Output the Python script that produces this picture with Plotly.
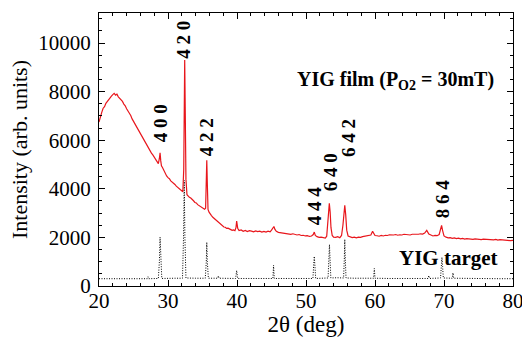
import plotly.graph_objects as go

# ---- Data ----
film_two_theta = [
    20.0, 20.2, 20.4, 20.6, 20.8, 21.0, 21.2, 21.4, 21.6, 21.8, 22.0, 22.2, 22.4, 22.6, 22.8,
    23.0, 23.2, 23.4, 23.6, 23.8, 24.0, 24.2, 24.4, 24.6, 24.8, 25.0, 25.2, 25.4, 25.6, 25.8,
    26.0, 26.2, 26.4, 26.6, 26.8, 27.0, 27.2, 27.4, 27.6, 27.8, 28.0, 28.2, 28.4, 28.6, 28.75,
    28.85, 28.95, 29.05, 29.2, 29.4, 29.6, 29.8, 30.0, 30.2, 30.4, 30.6, 30.8, 31.0, 31.2, 31.4,
    31.6, 31.8, 32.0, 32.15, 32.28, 32.36, 32.42, 32.5, 32.6, 32.75, 32.9, 33.1, 33.3, 33.5, 33.7,
    33.9, 34.1, 34.3, 34.5, 34.7, 34.9, 35.1, 35.3, 35.45, 35.55, 35.62, 35.7, 35.8, 35.95, 36.1,
    36.3, 36.5, 36.7, 36.9, 37.1, 37.3, 37.5, 37.7, 37.9, 38.1, 38.3, 38.5, 38.7, 38.9, 39.1,
    39.3, 39.5, 39.7, 39.85, 39.95, 40.1, 40.3, 40.6, 40.9, 41.2, 41.5, 41.8, 42.1, 42.4, 42.7,
    43.0, 43.3, 43.6, 43.9, 44.2, 44.5, 44.8, 45.0, 45.2, 45.35, 45.5, 45.7, 46.0, 46.3, 46.6,
    46.9, 47.2, 47.5, 47.8, 48.1, 48.4, 48.7, 49.0, 49.3, 49.6, 49.9, 50.2, 50.5, 50.8, 51.05,
    51.2, 51.35, 51.6, 51.9, 52.2, 52.5, 52.8, 53.0, 53.15, 53.28, 53.38, 53.5, 53.62, 53.8, 54.0,
    54.3, 54.6, 54.9, 55.15, 55.35, 55.5, 55.62, 55.75, 55.9, 56.1, 56.4, 56.7, 57.0, 57.3, 57.6,
    57.9, 58.2, 58.5, 58.8, 59.1, 59.4, 59.65, 59.8, 60.0, 60.3, 60.6, 60.9, 61.2, 61.5, 61.8,
    62.1, 62.4, 62.7, 63.0, 63.3, 63.6, 63.9, 64.2, 64.5, 64.8, 65.1, 65.4, 65.7, 66.0, 66.3,
    66.6, 66.9, 67.2, 67.5, 67.8, 68.1, 68.4, 68.7, 69.0, 69.3, 69.5, 69.65, 69.8, 70.0, 70.3,
    70.6, 70.9, 71.2, 71.5, 71.8, 72.1, 72.4, 72.7, 73.0, 73.3, 73.6, 73.9, 74.2, 74.5, 74.8,
    75.1, 75.4, 75.7, 76.0, 76.3, 76.6, 76.9, 77.2, 77.5, 77.8, 78.1, 78.4, 78.7, 79.0, 79.3,
    79.6, 80.0,
]
film_intensity = [
    6750, 7000, 7150, 7320, 7380, 7520, 7600, 7700, 7760, 7820, 7880, 7930, 7860, 7900, 7790,
    7740, 7650, 7600, 7490, 7420, 7300, 7220, 7100, 7020, 6880, 6780, 6660, 6540, 6450, 6320,
    6230, 6120, 6060, 5940, 5850, 5720, 5660, 5560, 5470, 5400, 5300, 5220, 5120, 5040, 5250,
    5480, 5150, 4950, 4880, 4740, 4640, 4530, 4460, 4420, 4330, 4290, 4230, 4180, 4110, 4060,
    4010, 3950, 3900, 3880, 4800, 7800, 9300, 7200, 4400, 3760, 3700, 3650, 3620, 3540, 3510,
    3440, 3420, 3350, 3310, 3260, 3230, 3180, 3160, 3200, 4100, 5180, 4200, 3150, 3040, 2960,
    2900, 2830, 2780, 2700, 2660, 2590, 2560, 2500, 2470, 2430, 2420, 2370, 2380, 2330, 2320,
    2290, 2310, 2280, 2400, 2670, 2380, 2280, 2310, 2250, 2290, 2240, 2280, 2260, 2230, 2270,
    2240, 2260, 2220, 2250, 2220, 2260, 2230, 2300, 2400, 2450, 2330, 2250, 2210, 2200, 2170,
    2190, 2160, 2150, 2130, 2150, 2110, 2100, 2120, 2080, 2090, 2060, 2070, 2040, 2060, 2120,
    2220, 2080, 2030, 2000, 2010, 1980, 1970, 2050, 2600, 3200, 3400, 3050, 2400, 2080, 2010,
    2000, 2030, 1990, 2080, 2500, 3100, 3320, 2950, 2300, 2060, 2020, 1990, 2010, 1980, 2010,
    2000, 2030, 2050, 2040, 2080, 2100, 2250, 2180, 2080, 2070, 2050, 2080, 2060, 2090, 2080,
    2110, 2090, 2100, 2120, 2090, 2110, 2100, 2130, 2110, 2120, 2100, 2130, 2120, 2140, 2130,
    2150, 2140, 2180, 2290, 2140, 2090, 2060, 2080, 2070, 2120, 2300, 2500, 2280, 2060, 2010,
    1980, 1990, 1960, 1980, 1950, 1970, 1940, 1960, 1930, 1950, 1930, 1940, 1920, 1940, 1920,
    1930, 1910, 1930, 1920, 1900, 1920, 1910, 1900, 1920, 1890, 1910, 1900, 1880, 1900, 1890,
    1870, 1880,
]

target_two_theta = [
    20.0, 22.0, 24.0, 26.0, 27.0, 27.1, 27.2, 28.6, 28.75, 28.85, 28.95, 29.1, 31.0, 32.1, 32.25,
    32.35, 32.45, 32.6, 34.0, 35.4, 35.55, 35.62, 35.7, 35.85, 37.2, 37.3, 37.4, 39.8, 39.95, 40.1,
    42.0, 45.2, 45.3, 45.4, 48.0, 51.0, 51.1, 51.2, 51.3, 51.4, 53.2, 53.3, 53.4, 53.5, 53.6,
    54.5, 55.45, 55.55, 55.62, 55.7, 55.8, 57.0, 59.8, 59.9, 60.0, 62.0, 64.0, 66.0, 67.7, 67.8,
    67.9, 69.5, 69.6, 69.7, 69.8, 69.9, 71.2, 71.3, 71.4, 73.0, 76.0, 78.0, 80.0,
]
target_intensity = [
    300, 300, 310, 300, 300, 380, 300, 310, 1000, 2010, 1000, 310, 320, 320, 2000,
    4350, 2000, 330, 320, 320, 1000, 1800, 1000, 320, 320, 420, 320, 310, 640, 310,
    310, 310, 850, 310, 310, 310, 800, 1220, 800, 310, 330, 1000, 1710, 1000, 330,
    340, 330, 1100, 1920, 1100, 330, 320, 320, 720, 320, 310, 310, 310, 310, 430,
    310, 330, 800, 1180, 800, 330, 320, 540, 320, 310, 300, 300, 300,
]

peak_labels = ["4 0 0", "4 2 0", "4 2 2", "4 4 4", "6 4 0", "6 4 2", "8 6 4"]

x_ticks = [20, 30, 40, 50, 60, 70, 80]
y_ticks = [0, 2000, 4000, 6000, 8000, 10000]

# ---- Figure ----
SERIF = "Liberation Serif"

fig = go.Figure()
fig.add_trace(go.Scatter(
    x=target_two_theta, y=target_intensity, mode="lines",
    line=dict(color="black", width=1, dash="1px,1.5px"), hoverinfo="skip", showlegend=False,
))
fig.add_trace(go.Scatter(
    x=film_two_theta, y=film_intensity, mode="lines",
    line=dict(color="rgb(232,22,28)", width=1.2), hoverinfo="skip", showlegend=False,
))

# label anchor positions (x in deg, y in intensity units)
label_pos = [
    (28.84, 6700), (32.3, 10130), (35.5, 6120), (51.16, 3280),
    (53.48, 4680), (56.2, 6080), (69.7, 3610),
]
annotations = []
for text, (ax, ay) in zip(peak_labels, label_pos):
    annotations.append(dict(
        x=ax, y=ay, xref="x", yref="y", text="<b>" + text + "</b>", textangle=-90,
        showarrow=False, font=dict(family=SERIF, size=19, color="black"),
    ))
annotations.append(dict(
    x=63.0, y=8480, xref="x", yref="y",
    text="<b>YIG film (P<sub>O2</sub> = 30mT)</b>", showarrow=False,
    font=dict(family=SERIF, size=20, color="black"),
))
annotations.append(dict(
    x=70.7, y=1140, xref="x", yref="y", text="<b>YIG target</b>", showarrow=False,
    font=dict(family=SERIF, size=21, color="black"),
))

axis_common = dict(
    showline=True, linecolor="black", linewidth=1.3, mirror="ticks",
    ticks="inside", tickcolor="black", tickwidth=1, ticklen=6,
    showgrid=False, zeroline=False, automargin=False,
    ticklabeloverflow="allow",
    tickfont=dict(family=SERIF, size=21, color="black"),
)

fig.update_layout(
    width=522, height=337,
    margin=dict(l=99, r=9, t=13, b=51),
    paper_bgcolor="white", plot_bgcolor="white",
    annotations=annotations,
    xaxis=dict(
        range=[20, 80], tickvals=x_ticks, ticktext=[str(v) for v in x_ticks],
        minor=dict(dtick=2, ticks="inside", ticklen=3, tickcolor="black"),
        title=dict(text="2θ (deg)", standoff=2,
                   font=dict(family=SERIF, size=23, color="black")),
        ticklabelstandoff=-4,
        **axis_common,
    ),
    yaxis=dict(
        range=[0, 11240], tickvals=y_ticks, ticktext=[str(v) for v in y_ticks],
        minor=dict(dtick=500, ticks="inside", ticklen=3, tickcolor="black"),
        title=dict(text="Intensity (arb. units)", standoff=4,
                   font=dict(family=SERIF, size=22, color="black")),
        ticklabelstandoff=3,
        **axis_common,
    ),
)

fig.write_html(
    "out.html",
    config={"displayModeBar": False},
    post_script="document.body.style.margin='0';document.body.style.padding='0';",
)
